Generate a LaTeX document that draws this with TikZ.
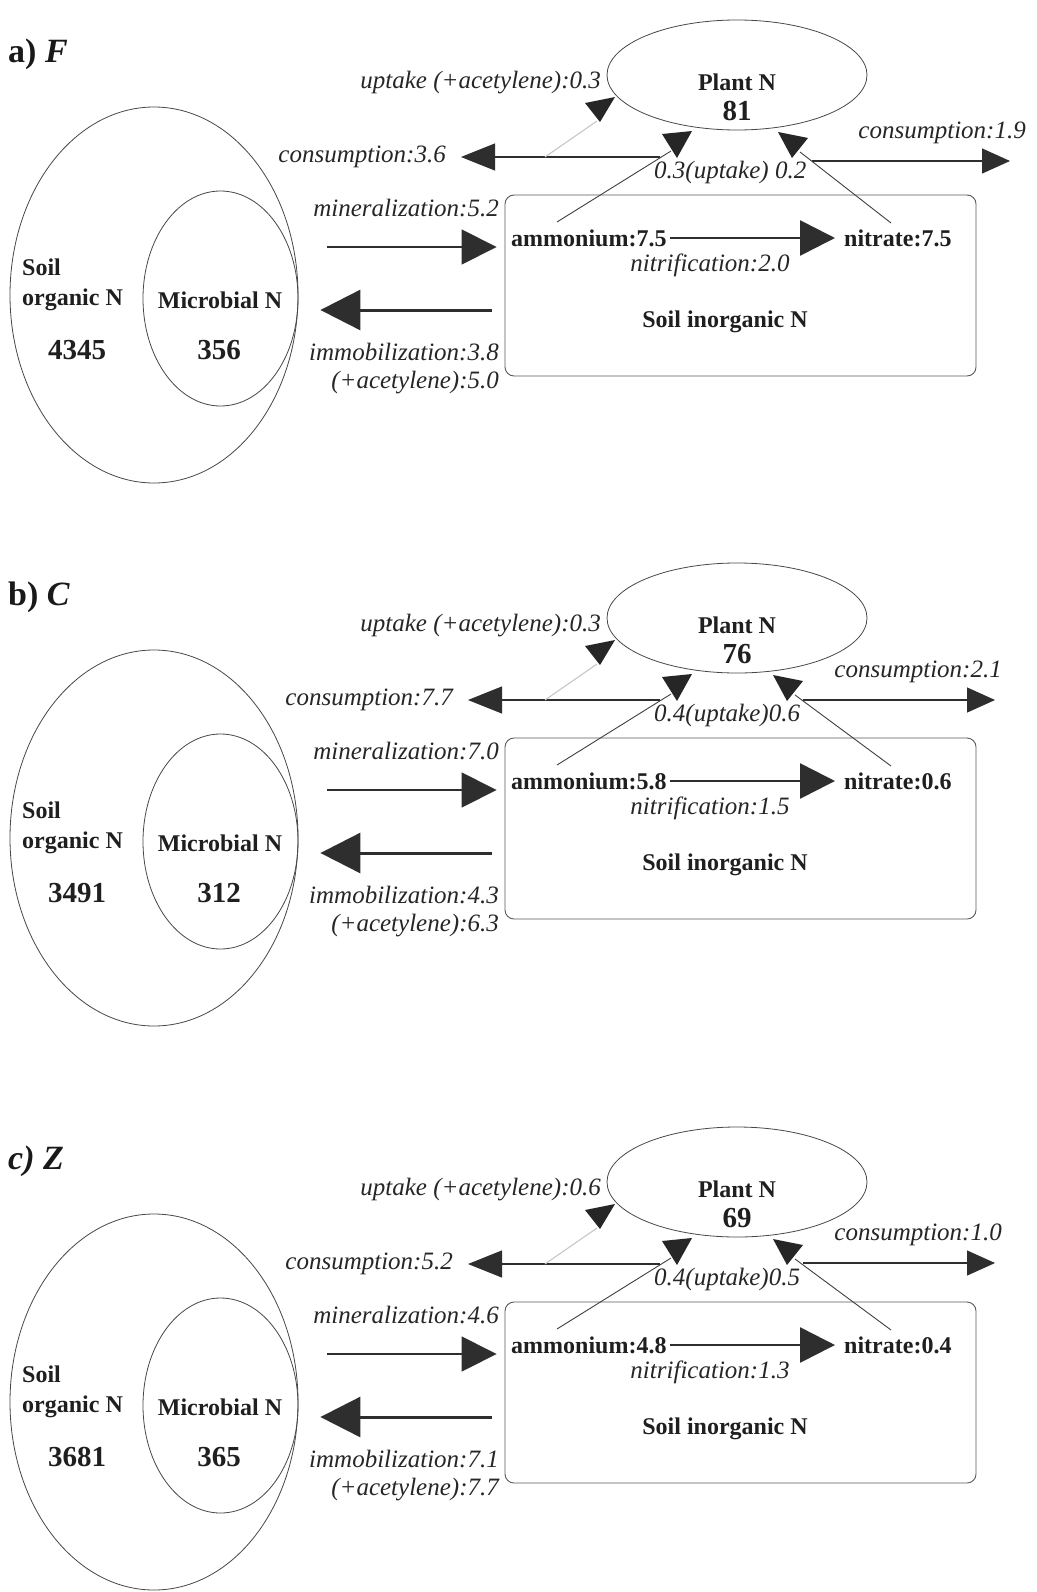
\documentclass[tikz,border=0pt]{standalone}
\usepackage{fontspec}
\setmainfont{Liberation Serif}
\usetikzlibrary{shapes.geometric,arrows.meta}

\tikzset{
  pool/.style={ellipse, draw=black!72, line width=0.8pt, inner sep=0pt},
  sink/.style={rectangle, rounded corners=9pt, draw=black!65, line width=0.9pt, inner sep=0pt},
  bl/.style={font=\fontsize{24}{26}\selectfont\bfseries, text=black!88, inner sep=1pt},
  bltwo/.style={font=\fontsize{24}{30}\selectfont\bfseries, text=black!88, inner sep=1pt, align=left},
  num/.style={font=\fontsize{29}{31}\selectfont\bfseries, text=black!88, inner sep=1pt},
  fl/.style={font=\fontsize{25}{27}\selectfont\itshape, text=black!85, inner sep=1pt},
  fltwo/.style={font=\fontsize{25}{28}\selectfont\itshape, text=black!85, inner sep=1pt, align=right},
  ttl/.style={font=\fontsize{34}{36}\selectfont\bfseries, text=black!90, inner sep=0pt},
  flux/.style={draw=black!82, line width=1.1pt},
  thinflux/.style={draw=black!75, line width=0.9pt},
  faint/.style={draw=black!22, line width=1.1pt},
  headfill/.style={fill=black!85}
}

% One nitrogen-budget panel; values come from the \p... macros
\newcommand\fluxpanel[1]{%
\begin{scope}[shift={(0,\pY)}]
  \node[ttl,anchor=west] (#1-title) at (8,54) {\pTitle};
  % organic pool with the microbial pool inside
  \node[pool,minimum width=288pt,minimum height=376pt] (#1-soil) at (154,295) {};
  \node[pool,minimum width=155pt,minimum height=215pt] (#1-mic) at (220.5,298.5) {};
  \node[bltwo,anchor=west] (#1-soiltxt) at (21,285) {Soil\\organic N};
  \node[num] (#1-soilval) at (77,350) {\pSoil};
  \node[bl] (#1-mictxt) at (220,300) {Microbial N};
  \node[num] (#1-micval) at (219,350) {\pMic};
  % plant pool
  \node[pool,minimum width=260pt,minimum height=110pt] (#1-plant) at (737,75) {};
  \node[bl] (#1-planttxt) at (737,82) {Plant N};
  \node[num] (#1-plantval) at (737,111) {\pPlant};
  % inorganic pool
  \node[sink,minimum width=471pt,minimum height=181pt] (#1-box) at (740.5,285.5) {};
  \node[bl,anchor=west] (#1-amm) at (510,238) {ammonium:\pAmm};
  \node[bl,anchor=west] (#1-nit) at (843,238) {nitrate:\pNit};
  \node[fl] (#1-nitrlab) at (710,265) {nitrification:\pNitr};
  \node[bl] (#1-boxtxt) at (725,322) {Soil inorganic N};
  % flux labels
  \node[fl,anchor=east] (#1-acetlab) at (602,83) {uptake (+acetylene):\pUpAc};
  \node[fl,anchor=east] (#1-consL) at (\pLx,157) {consumption:\pConsL};
  \node[fl,anchor=east] (#1-consR) at (\pRx,\pRy-28) {consumption:\pConsR};
  \node[fl,anchor=west] (#1-uplab) at (653,172) {\pUpLab};
  \node[fl,anchor=east] (#1-minlab) at (500,208) {mineralization:\pMin};
  \node[fltwo,anchor=east] (#1-immlab) at (500,369) {immobilization:\pImm\\(+acetylene):\pAcet};
  % free ends of the connectors
  \coordinate (#1-jL) at (660,157);
  \coordinate (#1-ammtop) at (557,222);
  \coordinate (#1-ammend) at (671,151);
  \coordinate (#1-nittop) at (891,223);
  \coordinate (#1-nitend) at (800+\pNx,152);
  \coordinate (#1-jA) at (545,157);
  \coordinate (#1-acend) at (597,121);
  \coordinate (#1-jR) at (\pRs,\pRy);
  \coordinate (#1-tipR) at (\pRt,\pRy);
  \coordinate (#1-mins) at (327,247);
  \coordinate (#1-imms) at (492,310);
  % fluxes
  \draw[flux,-{Triangle[length=34pt,width=27pt]},shorten >=14pt] (#1-jL) -- (#1-consL.east);
  \draw[flux,-{Triangle[length=28pt,width=25pt]}] (#1-jR) -- (#1-tipR);
  \draw[flux,line width=1.6pt,-{Triangle[length=35pt,width=35pt]},shorten >=8pt] (#1-mins) -- (#1-mins -| #1-box.west);
  \draw[flux,line width=3pt,-{Triangle[length=40pt,width=40pt]},shorten >=22pt] (#1-imms) -- (#1-imms -| #1-soil.east);
  \draw[flux,line width=2.6pt,-{Triangle[length=35pt,width=35pt]},shorten <=2pt,shorten >=8pt] (#1-amm.east) -- (#1-nit.west);
  \draw[thinflux] (#1-ammtop) -- (#1-ammend);
  \draw[thinflux] (#1-nittop) -- (#1-nitend);
  \draw[faint] (#1-jA) -- (#1-acend);
  \fill[headfill] (585,103) -- (615,97) -- (600,122) -- cycle;
  \fill[headfill] (662,134) -- (692,131) -- (677,158) -- cycle;
  \fill[headfill] (778+\pNx,132) -- (808+\pNx,138) -- (792+\pNx,158) -- cycle;
\end{scope}}

\begin{document}
\begin{tikzpicture}[x=1pt,y=-1pt]
\useasboundingbox (0,0) rectangle (1036,1592);
\fill[white] (0,0) rectangle (1036,1592);

% a) F
\def\pY{0}\def\pTitle{a) \textit{F}}
\def\pSoil{4345}\def\pMic{356}\def\pPlant{81}
\def\pAmm{7.5}\def\pNit{7.5}\def\pNitr{2.0}
\def\pUpAc{0.3}\def\pConsL{3.6}\def\pConsR{1.9}\def\pUpLab{0.3(uptake) 0.2}
\def\pMin{5.2}\def\pImm{3.8}\def\pAcet{5.0}
\def\pLx{447}\def\pRx{1027}\def\pRy{161}\def\pRs{812}\def\pRt{1010}\def\pNx{0}
\fluxpanel{pa}

% b) C
\def\pY{543}\def\pTitle{b) \textit{C}}
\def\pSoil{3491}\def\pMic{312}\def\pPlant{76}
\def\pAmm{5.8}\def\pNit{0.6}\def\pNitr{1.5}
\def\pUpAc{0.3}\def\pConsL{7.7}\def\pConsR{2.1}\def\pUpLab{0.4(uptake)0.6}
\def\pMin{7.0}\def\pImm{4.3}\def\pAcet{6.3}
\def\pLx{454}\def\pRx{1003}\def\pRy{157}\def\pRs{803}\def\pRt{995}\def\pNx{-5}
\fluxpanel{pb}

% c) Z
\def\pY{1107}\def\pTitle{\textit{c) Z}}
\def\pSoil{3681}\def\pMic{365}\def\pPlant{69}
\def\pAmm{4.8}\def\pNit{0.4}\def\pNitr{1.3}
\def\pUpAc{0.6}\def\pConsL{5.2}\def\pConsR{1.0}\def\pUpLab{0.4(uptake)0.5}
\def\pMin{4.6}\def\pImm{7.1}\def\pAcet{7.7}
\def\pLx{454}\def\pRx{1003}\def\pRy{156}\def\pRs{803}\def\pRt{995}\def\pNx{-5}
\fluxpanel{pc}
\end{tikzpicture}
\end{document}
